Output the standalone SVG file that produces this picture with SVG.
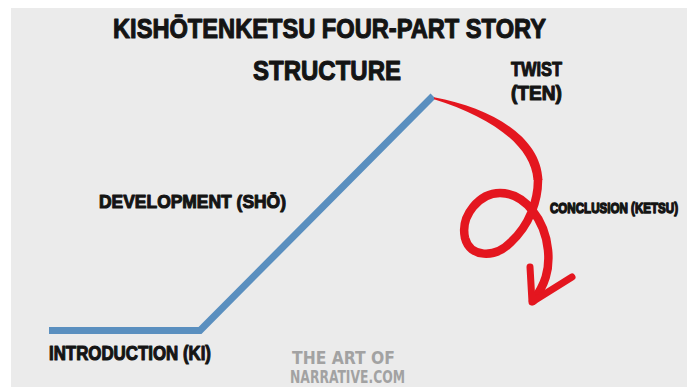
<svg xmlns="http://www.w3.org/2000/svg" width="687" height="387" viewBox="0 0 687 387">
  <style>
    .lbl { font-family: "Liberation Sans", "DejaVu Sans", Arial, sans-serif; font-weight: bold; fill: #141414; stroke: #141414; stroke-width: 1.1; stroke-linejoin: round; }
    .wm { font-family: "DejaVu Sans Condensed", "Liberation Sans Narrow", "Liberation Sans", sans-serif; font-weight: bold; fill: #a2a2a2; }
    .curve { fill: none; stroke: #5a8fbf; stroke-width: 7; stroke-linejoin: miter; stroke-linecap: butt; }
    .red { fill: none; stroke: #e4161f; stroke-linecap: round; stroke-linejoin: round; }
  </style>

  <!-- canvas -->
  <rect x="0" y="0" width="687" height="387" fill="#ffffff"/>
  <rect x="11" y="8" width="676" height="379" fill="#ebebeb"/>

  <!-- heading -->
  <g id="title">
    <text class="lbl" x="113" y="38" font-size="27" textLength="433" lengthAdjust="spacingAndGlyphs">KISHŌTENKETSU FOUR-PART STORY</text>
    <text class="lbl" x="253" y="80" font-size="27" textLength="148" lengthAdjust="spacingAndGlyphs">STRUCTURE</text>
  </g>

  <!-- connectors: story arc and the twist arrow -->
  <g id="connectors">
    <path class="curve" d="M49,330.5 L200,330.5 L433,96"/>
    <!-- tapered start of the twist stroke -->
    <path fill="#e4161f" d="M434,97.2 C492,108 541,137 542.5,180 L533.5,180 C531,144 488,116 434,99.2 Z"/>
    <path class="red" stroke-width="8.5" d="M538,180 C538,200 530,225 510,243 C495,258 470,258 465,238 C460,215 480,193 500,193 C525,193 545,220 548,250 C550,270 545,285 533,301"/>
    <path class="red" stroke-width="7" stroke-linejoin="miter" stroke-linecap="butt" d="M530,267 L532,302 L572,277"/>
  </g>

  <g id="intro">
    <text class="lbl" x="49" y="360" font-size="19.5" textLength="162" lengthAdjust="spacingAndGlyphs">INTRODUCTION (KI)</text>
  </g>
  <g id="development">
    <text class="lbl" x="99" y="208" font-size="19" textLength="187" lengthAdjust="spacingAndGlyphs">DEVELOPMENT (SHŌ)</text>
  </g>
  <g id="twist">
    <text class="lbl" x="511" y="76" font-size="19.5" textLength="51" lengthAdjust="spacingAndGlyphs">TWIST</text>
    <text class="lbl" x="511" y="100" font-size="19.5" textLength="51" lengthAdjust="spacingAndGlyphs">(TEN)</text>
  </g>
  <g id="conclusion">
    <text class="lbl" transform="translate(550,213) scale(1,1.3)" x="0" y="0" font-size="11.6" stroke-width="0.9" textLength="128" lengthAdjust="spacingAndGlyphs">CONCLUSION (KETSU)</text>
  </g>

  <g id="credit">
    <text class="wm" x="292" y="364" font-size="18" textLength="103" lengthAdjust="spacingAndGlyphs">THE ART OF</text>
    <text class="wm" x="290" y="383" font-size="18" textLength="115" lengthAdjust="spacingAndGlyphs">NARRATIVE.COM</text>
  </g>
</svg>
